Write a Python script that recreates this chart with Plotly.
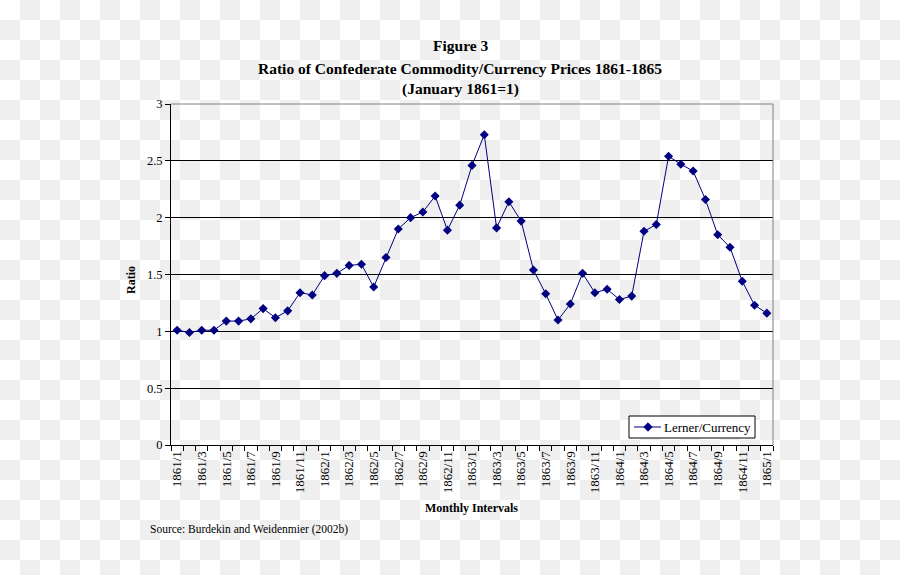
import plotly.graph_objects as go

months = [
    "1861/1", "1861/2", "1861/3", "1861/4", "1861/5", "1861/6", "1861/7", "1861/8",
    "1861/9", "1861/10", "1861/11", "1861/12",
    "1862/1", "1862/2", "1862/3", "1862/4", "1862/5", "1862/6", "1862/7", "1862/8",
    "1862/9", "1862/10", "1862/11", "1862/12",
    "1863/1", "1863/2", "1863/3", "1863/4", "1863/5", "1863/6", "1863/7", "1863/8",
    "1863/9", "1863/10", "1863/11", "1863/12",
    "1864/1", "1864/2", "1864/3", "1864/4", "1864/5", "1864/6", "1864/7", "1864/8",
    "1864/9", "1864/10", "1864/11", "1864/12",
    "1865/1",
]
ratio = [
    1.01, 0.99, 1.01, 1.01, 1.09, 1.09, 1.11, 1.20, 1.12, 1.18, 1.34, 1.32,
    1.49, 1.51, 1.58, 1.59, 1.39, 1.65, 1.90, 2.00, 2.05, 2.19, 1.89, 2.11,
    2.46, 2.73, 1.91, 2.14, 1.97, 1.54, 1.33, 1.10, 1.24, 1.51, 1.34, 1.37,
    1.28, 1.31, 1.88, 1.94, 2.54, 2.47, 2.41, 2.16, 1.85, 1.74, 1.44, 1.23,
    1.16,
]
series_name = "Lerner/Currency"
tick_labels = [m if i % 2 == 0 else "" for i, m in enumerate(months)]
y_ticks = [0, 0.5, 1, 1.5, 2, 2.5, 3]
y_ticktext = ["0", "0.5", "1", "1.5", "2", "2.5", "3"]

W, H = 900, 575
ML, MR, MT, MB = 171, 127, 104, 130
PW, PH = W - ML - MR, H - MT - MB
NAVY = "#000080"

def px_to_paper(px, py):
    return (px - ML) / PW, (H - MB - py) / PH

# checkerboard background (transparency pattern)
sq = 20
parts = []
for r in range(0, H // sq + 1):
    for c in range(0, W // sq + 1):
        if (r + c) % 2 == 1:
            x0, y0 = px_to_paper(c * sq, r * sq)
            x1, y1 = px_to_paper((c + 1) * sq, (r + 1) * sq)
            parts.append(f"M{x0:.5f},{y0:.5f}H{x1:.5f}V{y1:.5f}H{x0:.5f}Z")
checker_path = "".join(parts)

SERIF = "Liberation Serif, Times New Roman, serif"

fig = go.Figure()
fig.add_trace(go.Scatter(
    x=months, y=ratio, mode="lines+markers", name=series_name,
    line=dict(color=NAVY, width=1),
    marker=dict(symbol="diamond", size=7, color=NAVY),
    showlegend=False,
))

# legend box drawn as paper shapes
bx0, by0 = px_to_paper(629, 438)
bx1, by1 = px_to_paper(755, 416)
lx0, lyc = px_to_paper(634, 427)
lx1, _ = px_to_paper(661, 427)
dcx, _ = px_to_paper(648, 427)
dhw = 4.2 / PW
dhh = 4.2 / PH
diamond = (f"M{dcx - dhw:.5f},{lyc:.5f}L{dcx:.5f},{lyc + dhh:.5f}"
           f"L{dcx + dhw:.5f},{lyc:.5f}L{dcx:.5f},{lyc - dhh:.5f}Z")

shapes = [
    dict(type="path", path=checker_path, xref="paper", yref="paper",
         fillcolor="#efefef", line=dict(width=0), layer="below"),
    dict(type="line", xref="paper", yref="paper", x0=0, x1=1, y0=1, y1=1,
         line=dict(color="#808080", width=1), layer="above"),
    dict(type="line", xref="paper", yref="paper", x0=1, x1=1, y0=0, y1=1,
         line=dict(color="#808080", width=1), layer="above"),
    dict(type="rect", xref="paper", yref="paper", x0=bx0, x1=bx1, y0=by0, y1=by1,
         fillcolor="white", line=dict(color="black", width=1), layer="above"),
    dict(type="line", xref="paper", yref="paper", x0=lx0, x1=lx1, y0=lyc, y1=lyc,
         line=dict(color=NAVY, width=1), layer="above"),
    dict(type="path", xref="paper", yref="paper", path=diamond,
         fillcolor=NAVY, line=dict(color=NAVY, width=1), layer="above"),
]

annotations = []
tx, _ = px_to_paper(460, 0)
for text, py in [("Figure 3", 46), ("Ratio of Confederate Commodity/Currency Prices 1861-1865", 68),
                 ("(January 1861=1)", 89)]:
    _, ty = px_to_paper(0, py)
    annotations.append(dict(text=f"<b>{text}</b>", x=tx, y=ty, xref="paper", yref="paper",
                            xanchor="center", yanchor="middle", showarrow=False,
                            font=dict(family=SERIF, size=15.5, color="black")))
ax_, ay_ = px_to_paper(471, 508)
annotations.append(dict(text="<b>Monthly Intervals</b>", x=ax_, y=ay_, xref="paper", yref="paper",
                        xanchor="center", yanchor="middle", showarrow=False,
                        font=dict(family=SERIF, size=12, color="black")))
rx, ry = px_to_paper(131, 280)
annotations.append(dict(text="<b>Ratio</b>", x=rx, y=ry, xref="paper", yref="paper",
                        xanchor="center", yanchor="middle", showarrow=False, textangle=-90,
                        font=dict(family=SERIF, size=12, color="black")))
sx, sy = px_to_paper(148, 529)
annotations.append(dict(text="Source: Burdekin and Weidenmier (2002b)", x=sx, y=sy,
                        xref="paper", yref="paper", xanchor="left", yanchor="middle",
                        showarrow=False, font=dict(family=SERIF, size=11.5, color="black")))
ltx, _ = px_to_paper(662, 427)
annotations.append(dict(text=series_name, x=ltx, y=lyc, xref="paper", yref="paper",
                        xanchor="left", yanchor="middle", showarrow=False,
                        font=dict(family=SERIF, size=13, color="black")))

fig.update_layout(
    width=W, height=H,
    margin=dict(l=ML, r=MR, t=MT, b=MB, pad=0),
    paper_bgcolor="white", plot_bgcolor="white",
    font=dict(family=SERIF, size=12, color="black"),
    showlegend=False,
    shapes=shapes,
    annotations=annotations,
    xaxis=dict(
        type="category", categoryorder="array", categoryarray=months,
        range=[-0.5, len(months) - 0.5],
        tickmode="array", tickvals=months, ticktext=tick_labels,
        tickson="boundaries", ticks="outside", ticklen=5, tickcolor="black",
        tickangle=-90, showgrid=False, showline=True, linecolor="black", linewidth=1,
        tickfont=dict(family=SERIF, size=13, color="black"),
    ),
    yaxis=dict(
        range=[0, 3], tickmode="array", tickvals=y_ticks, ticktext=y_ticktext,
        ticks="outside", ticklen=5, tickcolor="black",
        showgrid=True, gridcolor="black", gridwidth=1,
        zeroline=False, showline=True, linecolor="black", linewidth=1,
        tickfont=dict(family=SERIF, size=12.5, color="black"),
    ),
)

fig.write_html("out.html", config={"displayModeBar": False},
               post_script="document.body.style.margin='0';")
